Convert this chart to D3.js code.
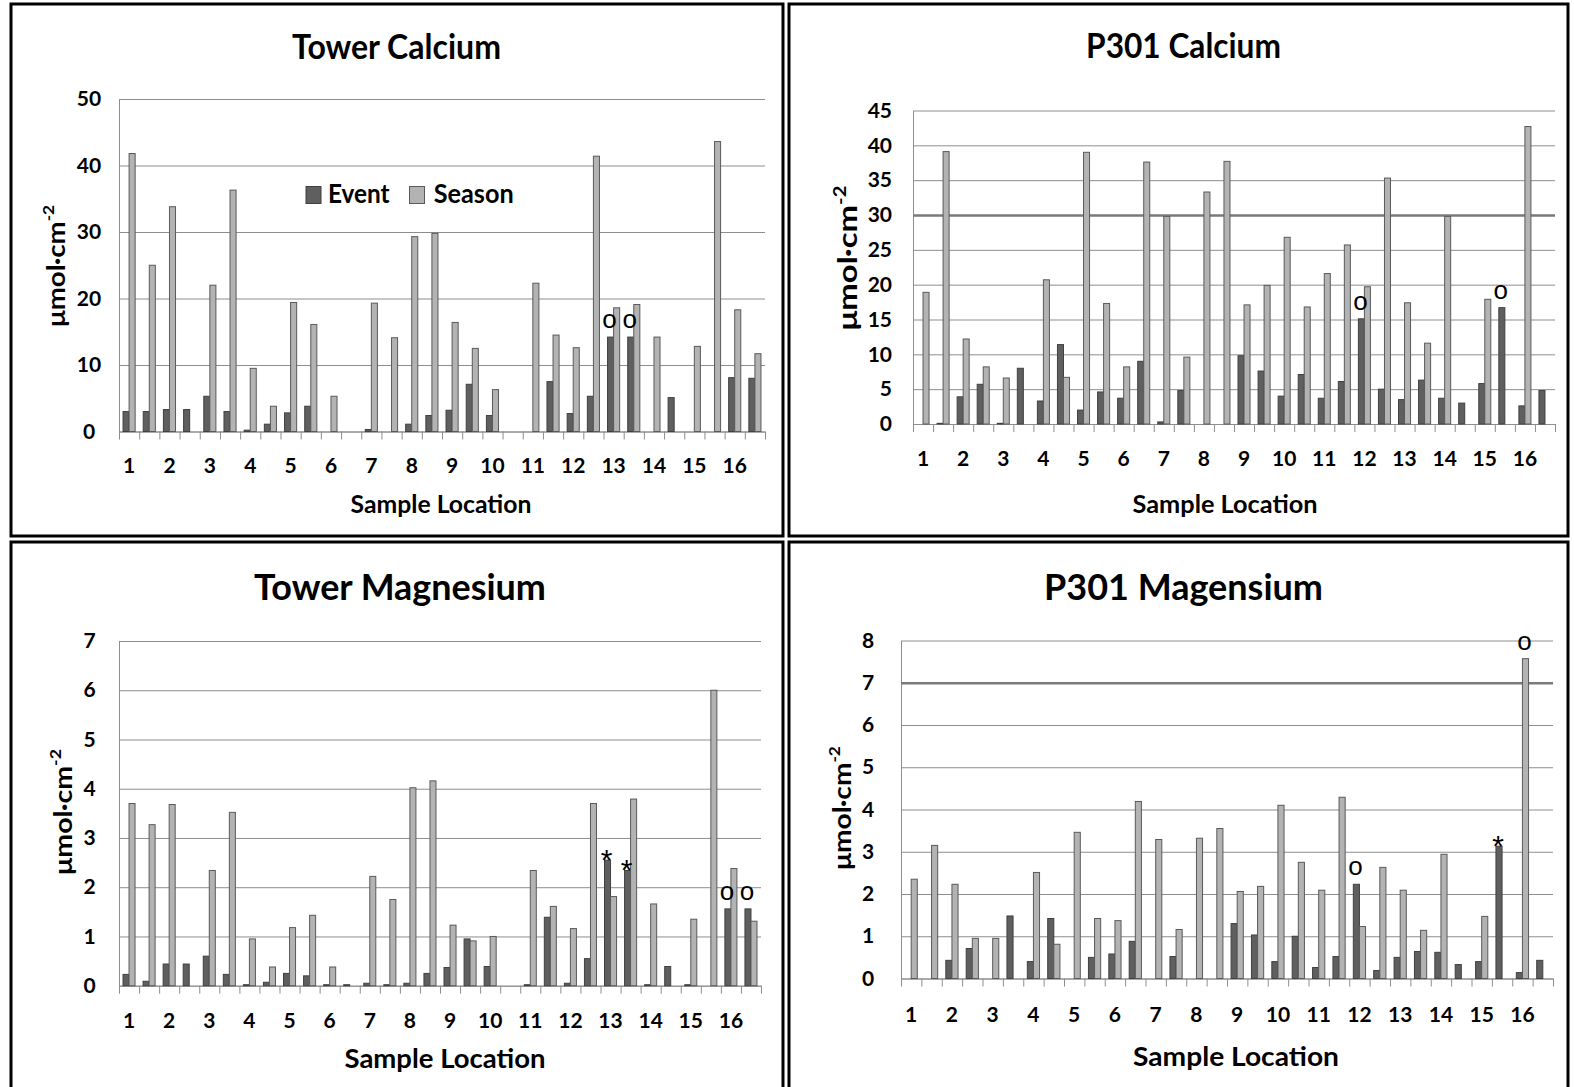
<!DOCTYPE html>
<html>
<head>
<meta charset="utf-8">
<script src="https://cdn.jsdelivr.net/npm/d3@7"></script>
<style>
  html, body { margin: 0; padding: 0; background: #fff; }
  svg { display: block; }
</style>
</head>
<body>
<svg id="fig" width="1574" height="1087"></svg>
<script>
// Sample locations 1..16, each sampled twice -> 32 slots per chart
const locationLabels = ["1","2","3","4","5","6","7","8","9","10","11","12","13","14","15","16"];
const sampleSlots = d3.range(32);
const seriesNames = ["Event", "Season"];

// Tower calcium (µmol·cm-2)
const towerCaEvent  = [3.0,3.0,3.3,3.3,5.3,3.0,0.2,1.1,2.8,3.8,0,0,0.3,0,1.1,2.4,3.2,7.1,2.4,0,0,7.5,2.7,5.3,14.2,14.2,0,5.1,0,0,8.1,8.0];
const towerCaSeason = [41.8,25.0,33.8,0,22.0,36.3,9.5,3.8,19.4,16.1,5.3,0,19.3,14.1,29.3,29.8,16.4,12.5,6.3,0,22.3,14.5,12.6,41.4,18.6,19.1,14.2,0,12.8,43.6,18.3,11.7];
const towerCaTicks  = [0,10,20,30,40,50];

// P301 calcium
const p301CaEvent  = [0,0.1,3.9,5.7,0.1,8.0,3.3,11.4,2.0,4.6,3.7,9.0,0.3,4.8,0,0,9.8,7.6,4.0,7.1,3.7,6.1,15.1,5.0,3.5,6.3,3.7,3.0,5.8,16.7,2.6,4.8];
const p301CaSeason = [18.9,39.1,12.2,8.2,6.6,0,20.7,6.7,39.0,17.3,8.2,37.6,29.8,9.6,33.3,37.7,17.1,19.9,26.8,16.8,21.6,25.7,19.7,35.3,17.4,11.6,29.8,0,17.9,0,42.7,0];
const p301CaTicks  = [0,5,10,15,20,25,30,35,40,45];

// Tower magnesium
const towerMgEvent  = [0.23,0.09,0.44,0.44,0.6,0.23,0.02,0.07,0.25,0.2,0.02,0.02,0.05,0.02,0.05,0.25,0.37,0.95,0.39,0,0.02,1.39,0.05,0.55,2.55,2.34,0.02,0.39,0.02,0,1.56,1.56];
const towerMgSeason = [3.7,3.27,3.68,0,2.34,3.52,0.95,0.38,1.18,1.43,0.38,0,2.22,1.75,4.02,4.16,1.23,0.91,1.0,0,2.34,1.61,1.16,3.7,1.81,3.79,1.66,0,1.35,6.0,2.38,1.31];
const towerMgTicks  = [0,1,2,3,4,5,6,7];

// P301 magnesium
const p301MgEvent  = [0,0,0.43,0.71,0,1.48,0.40,1.42,0,0.5,0.58,0.88,0,0.52,0,0,1.30,1.03,0.40,1.0,0.26,0.52,2.23,0.19,0.5,0.64,0.62,0.33,0.40,3.13,0.14,0.43];
const p301MgSeason = [2.35,3.15,2.23,0.95,0.95,0,2.51,0.81,3.46,1.42,1.37,4.19,3.29,1.16,3.32,3.55,2.06,2.18,4.10,2.75,2.09,4.29,1.23,2.63,2.09,1.14,2.94,0,1.47,0,7.57,0];
const p301MgTicks  = [0,1,2,3,4,5,6,7,8];

// Flag symbols written above individual bars
const towerCaFlags = [{slot:24, series:"Event", sym:"o"}, {slot:25, series:"Event", sym:"o"}];
const p301CaFlags  = [{slot:22, series:"Event", sym:"o"}, {slot:29, series:"Event", sym:"o"}];
const towerMgFlags = [{slot:24, series:"Event", sym:"*"}, {slot:25, series:"Event", sym:"*"},
                      {slot:30, series:"Event", sym:"o"}, {slot:31, series:"Event", sym:"o"}];
const p301MgFlags  = [{slot:22, series:"Event", sym:"o"}, {slot:29, series:"Event", sym:"*"},
                      {slot:30, series:"Season", sym:"o"}];

const FONT = "Lato, 'Open Sans', sans-serif";
const FLAG_FONT = "'Liberation Sans', Arial, sans-serif";
const fills   = { Event: "#5f5f5f", Season: "#b3b3b3" };
const strokes = { Event: "#404040", Season: "#5a5a5a" };
const GRID = "#8e8e8e";
const TICK_FONT = 21;

const panels = [
  { title: "Tower Calcium", event: towerCaEvent, season: towerCaSeason, ticks: towerCaTicks, flags: towerCaFlags,
    frame: [11, 4, 772, 532], left: 119, right: 765, top: 99, base: 431.5,
    titleX: 396.5, titleY: 58.5, titleW: 209, titleSize: 35,
    yLab: { anchor: "middle", x: 89 }, xLabY: 473,
    xTitle: { cx: 441, y: 513, w: 181, size: 24 },
    yTitle: { cx: 58, cy: 266, len: 122, size: 25 },
    legend: true },
  { title: "P301 Calcium", event: p301CaEvent, season: p301CaSeason, ticks: p301CaTicks, flags: p301CaFlags,
    frame: [789, 4, 779, 532], left: 913, right: 1555, top: 110.5, base: 424,
    titleX: 1183.5, titleY: 58, titleW: 195, titleSize: 35,
    yLab: { anchor: "end", x: 892 }, xLabY: 466, heavy: 30,
    xTitle: { cx: 1225, y: 513, w: 185, size: 24 },
    yTitle: { cx: 850, cy: 258, len: 145, size: 26 } },
  { title: "Tower Magnesium", event: towerMgEvent, season: towerMgSeason, ticks: towerMgTicks, flags: towerMgFlags,
    frame: [11, 542, 772, 600], left: 119, right: 761, top: 641, base: 985.7,
    titleX: 400, titleY: 600, titleW: 292, titleSize: 36,
    yLab: { anchor: "middle", x: 89.5 }, xLabY: 1027.8,
    xTitle: { cx: 445, y: 1068, w: 201, size: 26 },
    yTitle: { cx: 65, cy: 812, len: 126, size: 25 } },
  { title: "P301 Magensium", event: p301MgEvent, season: p301MgSeason, ticks: p301MgTicks, flags: p301MgFlags,
    frame: [789, 542, 779, 600], left: 901, right: 1553, top: 640.5, base: 978.5,
    titleX: 1183.5, titleY: 600, titleW: 279, titleSize: 36,
    yLab: { anchor: "middle", x: 868 }, xLabY: 1021.5, heavy: 7,
    xTitle: { cx: 1236, y: 1066, w: 206, size: 26 },
    yTitle: { cx: 844, cy: 808, len: 124, size: 25 } }
];

const svg = d3.select("#fig");

// Bold text squeezed/stretched horizontally to a given advance width
function fittedText(parent, o) {
  const g = parent.append("g");
  const t = g.append("text")
    .attr("text-anchor", o.anchor || "middle")
    .attr("font-family", FONT).attr("font-weight", 700)
    .attr("font-size", o.size).attr("fill", "#000")
    .text(o.text);
  if (o.sup) t.append("tspan").attr("font-size", o.size * 0.62).attr("dy", -o.size * 0.42).text(o.sup);
  const w = t.node().getBBox().width;
  const k = o.width / w;
  g.attr("transform", `translate(${o.x},${o.y})` + (o.rotate ? ` rotate(${o.rotate})` : "") + ` scale(${k},1)`);
  return g;
}

function drawPanel(p) {
  const g = svg.append("g");

  const x = d3.scaleBand().domain(sampleSlots).range([p.left, p.right]);
  const xs = d3.scaleBand().domain(seriesNames).range([0, x.bandwidth()]).paddingOuter(0.667);
  const y = d3.scaleLinear().domain([0, d3.max(p.ticks)]).range([p.base, p.top]);
  const bounds = d3.scaleLinear().domain([0, sampleSlots.length]).range([p.left, p.right]);

  // gridlines and value labels
  const ya = g.append("g").attr("transform", `translate(${p.left},0)`)
    .call(d3.axisLeft(y).tickValues(p.ticks).tickFormat(d3.format("d"))
      .tickSize(-(p.right - p.left)).tickSizeOuter(0).tickPadding(0));
  ya.select(".domain").attr("stroke", GRID);
  ya.selectAll(".tick line").attr("stroke", GRID).attr("stroke-width", 1);
  if (p.heavy !== undefined) {
    ya.selectAll(".tick").filter(d => d === p.heavy).select("line").attr("stroke", "#7a7a7a").attr("stroke-width", 2.5);
  }
  ya.selectAll(".tick text")
    .attr("text-anchor", p.yLab.anchor).attr("x", p.yLab.x - p.left)
    .attr("font-family", FONT).attr("font-weight", 700).attr("font-size", TICK_FONT).attr("fill", "#000");

  // category separators below the baseline
  const xb = g.append("g").attr("transform", `translate(0,${p.base})`)
    .call(d3.axisBottom(bounds).tickValues(d3.range(sampleSlots.length + 1)).tickSize(8).tickSizeOuter(0).tickFormat(""));
  xb.select(".domain").attr("stroke", GRID);
  xb.selectAll(".tick line").attr("stroke", GRID);

  // location numbers under every first slot of a pair
  const xl = g.append("g").attr("transform", `translate(0,${p.base})`)
    .call(d3.axisBottom(x).tickValues(sampleSlots.filter(i => i % 2 === 0)).tickSize(0)
      .tickFormat(i => locationLabels[i / 2]));
  xl.select(".domain").remove();
  xl.selectAll(".tick text")
    .attr("y", p.xLabY - p.base).attr("dy", 0)
    .attr("font-family", FONT).attr("font-weight", 700).attr("font-size", TICK_FONT).attr("fill", "#000");

  // bars
  const rows = sampleSlots.map(i => ({ slot: i, Event: p.event[i], Season: p.season[i] }));
  const slotG = g.append("g").selectAll("g").data(rows).join("g")
    .attr("transform", d => `translate(${x(d.slot)},0)`);
  slotG.selectAll("rect")
    .data(d => seriesNames.map(s => ({ s, v: d[s] })).filter(e => e.v > 0))
    .join("rect")
    .attr("x", e => xs(e.s))
    .attr("width", xs.bandwidth())
    .attr("y", e => y(e.v))
    .attr("height", e => Math.max(0.6, y(0) - y(e.v)))
    .attr("fill", e => fills[e.s])
    .attr("stroke", e => strokes[e.s])
    .attr("stroke-width", 1);

  // flags
  g.append("g").selectAll("text").data(p.flags).join("text")
    .attr("x", f => x(f.slot) + xs(f.series) + xs.bandwidth() / 2 - 1)
    .attr("y", f => y((f.series === "Event" ? p.event : p.season)[f.slot]) + (f.sym === "*" ? 10 : -9))
    .attr("text-anchor", "middle")
    .attr("font-family", FLAG_FONT).attr("font-size", f => f.sym === "*" ? 30 : 26)
    .attr("fill", "#000")
    .text(f => f.sym);

  // titles
  fittedText(g, { text: p.title, x: p.titleX, y: p.titleY, width: p.titleW, size: p.titleSize });
  fittedText(g, { text: "Sample Location", x: p.xTitle.cx, y: p.xTitle.y, width: p.xTitle.w, size: p.xTitle.size });
  fittedText(g, { text: "\u03bcmol\u00b7cm", sup: "-2", x: p.yTitle.cx + 0.26 * p.yTitle.size, y: p.yTitle.cy,
                  width: p.yTitle.len, size: p.yTitle.size, rotate: -90 });

  // legend
  if (p.legend) {
    const lg = g.append("g");
    const items = [{ s: "Event", box: 306, tx: 328, w: 62 }, { s: "Season", box: 409.5, tx: 433.7, w: 80 }];
    lg.selectAll("rect").data(items).join("rect")
      .attr("x", d => d.box).attr("y", 186.5).attr("width", 15).attr("height", 17)
      .attr("fill", d => fills[d.s]).attr("stroke", d => strokes[d.s]).attr("stroke-width", 1);
    items.forEach(d => fittedText(lg, { text: d.s, x: d.tx, y: 203.3, width: d.w, size: 26, anchor: "start" }));
  }

  // panel frame
  g.append("rect")
    .attr("x", p.frame[0]).attr("y", p.frame[1]).attr("width", p.frame[2]).attr("height", p.frame[3])
    .attr("fill", "none").attr("stroke", "#000").attr("stroke-width", 3);
}

panels.forEach(drawPanel);
</script>
</body>
</html>
